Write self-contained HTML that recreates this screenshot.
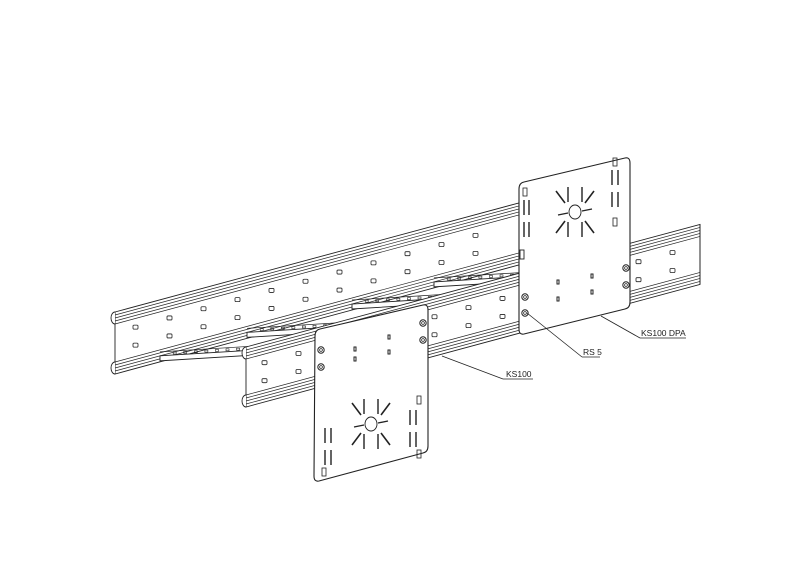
<!DOCTYPE html>
<html><head><style>html,body{margin:0;padding:0;background:#fff;}svg{display:block}</style></head>
<body>
<svg id="s" width="800" height="566" viewBox="0 0 800 566" xmlns="http://www.w3.org/2000/svg" font-family="Liberation Sans, sans-serif">
<rect width="800" height="566" fill="#fff"/>
<g id="g" stroke="#222" stroke-width="0.9" fill="none"></g>
<g font-size="8.5" fill="#222">
<text x="506" y="377">KS100</text>
<text x="583" y="355">RS 5</text>
<text x="641" y="336">KS100 DPA</text>
</g>
</svg>
<script>
var g=document.getElementById('g'),NS='http://www.w3.org/2000/svg';
function el(t,a){var e=document.createElementNS(NS,t);for(var k in a)e.setAttribute(k,a[k]);g.appendChild(e);return e;}
function ln(x1,y1,x2,y2,w){el('line',{x1:x1,y1:y1,x2:x2,y2:y2,'stroke-width':w||0.9});}
var S=-0.27;
function yF(x){return 312+S*(x-115);}
function yN(x){return 347+S*(x-246);}
function rail(f,x0,x1,H,slots){
  el('polygon',{points:x0+','+f(x0)+' '+x1+','+f(x1)+' '+x1+','+(f(x1)+H)+' '+x0+','+(f(x0)+H),fill:'#fff'});
  [3,6,9,12,H-12,H-9,H-6,H-3].forEach(function(o){ln(x0,f(x0)+o,x1,f(x1)+o,0.7);});
  el('path',{d:'M'+x0+','+(f(x0)+12)+' a4,6 0 0 1 0,-12',fill:'#fff'});
  el('path',{d:'M'+x0+','+(f(x0)+H)+' a4,6 0 0 1 0,-12',fill:'#fff'});
  slots.forEach(function(x){[20,38].forEach(function(o){el('rect',{x:x,y:f(x)+o-2,width:5,height:4,rx:1,'stroke-width':0.8});});});
}
var fs=[];for(var x=133;x<505;x+=34)fs.push(x);
rail(yF,115,519,62,fs);
[248,335,440,522].forEach(function(x){
  var ax=x,ay=yN(x)+4,bx=x-88,by=yF(x-88)+56;
  el('polygon',{points:ax+','+ay+' '+bx+','+by+' '+(bx)+','+(by+5)+' '+ax+','+(ay+5),fill:'#fff'});
  ln(bx,by-4,ax,ay-4,0.7);
  for(var t=0.15;t<0.95;t+=0.12){var px=bx+(ax-bx)*t,py=by+(ay-by)*t;el('rect',{x:px,y:py-3,width:3,height:2,'stroke-width':0.6});}
});
var ns=[];for(var x=262;x<700;x+=34)ns.push(x);
rail(yN,246,700,60,ns);
ln(700,yN(700),700,yN(700)+60);
function plate(tl,tr,br,bl,star,bolts,sl){
  el('path',{d:'M'+(tl[0]+5)+','+(tl[1]-1)+' L'+(tr[0]-5)+','+(tr[1]+1)+' Q'+tr[0]+','+tr[1]+' '+tr[0]+','+(tr[1]+6)+' L'+br[0]+','+(br[1]-6)+' Q'+br[0]+','+br[1]+' '+(br[0]-5)+','+(br[1]+1)+' L'+(bl[0]+5)+','+(bl[1]-1)+' Q'+bl[0]+','+bl[1]+' '+bl[0]+','+(bl[1]-6)+' L'+tl[0]+','+(tl[1]+6)+' Q'+tl[0]+','+tl[1]+' '+(tl[0]+5)+','+(tl[1]-1)+' Z',fill:'#fff','stroke-width':1.1});
  var cx=star[0],cy=star[1];
  el('ellipse',{cx:cx,cy:cy,rx:6,ry:7,'stroke-width':0.9});
  [[-1,-1],[1,-1],[1,1],[-1,1]].forEach(function(d){ln(cx+d[0]*10,cy+d[1]*9,cx+d[0]*19,cy+d[1]*21,1.6);});
  ln(cx-7,cy+1,cx-17,cy+3,1.3);ln(cx+7,cy-1,cx+17,cy-3,1.3);
  [-7,7].forEach(function(dx){ln(cx+dx,cy-25,cx+dx,cy-10,1.4);ln(cx+dx,cy+10,cx+dx,cy+25,1.4);});
  bolts.forEach(function(b){el('circle',{cx:b[0],cy:b[1],r:3.2,'stroke-width':1});el('circle',{cx:b[0],cy:b[1],r:1.4,'stroke-width':0.7});});
  sl.forEach(function(p){ln(p[0],p[1],p[0],p[1]+15,1.4);});
}
plate([519,183],[630,157],[630,308],[519,335],[575,212],[[525,297],[525,313],[626,268],[626,285]],
 [[524,200],[529,200],[524,222],[529,222],[612,170],[618,170],[612,192],[618,192]]);
[[523,188],[613,158],[613,218]].forEach(function(p){el('rect',{x:p[0],y:p[1],width:4,height:8,'stroke-width':0.8});});
[[557,280],[557,297],[591,274],[591,290]].forEach(function(p){el('rect',{x:p[0],y:p[1],width:2,height:4,'stroke-width':1});});
el('rect',{x:520,y:250,width:4,height:9,'stroke-width':0.9});
plate([315,330],[428,304],[428,452],[314,482],[371,424],[[321,350],[321,367],[423,323],[423,340]],
 [[325,428],[331,428],[325,450],[331,450],[410,410],[416,410],[410,432],[416,432]]);
[[322,468],[417,396],[417,450]].forEach(function(p){el('rect',{x:p[0],y:p[1],width:4,height:8,'stroke-width':0.8});});
[[354,347],[354,357],[388,335],[388,350]].forEach(function(p){el('rect',{x:p[0],y:p[1],width:2,height:4,'stroke-width':1});});
ln(442,356,503,379,0.8);ln(503,379,533,379,0.8);
ln(527,313,582,357,0.8);ln(582,357,600,357,0.8);
ln(601,316,640,338,0.8);ln(640,338,686,338,0.8);
</script>
</body></html>
